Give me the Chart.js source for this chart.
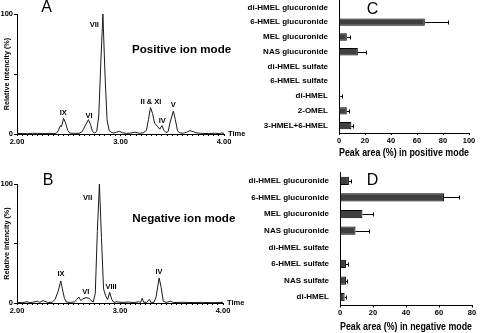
<!DOCTYPE html>
<html>
<head>
<meta charset="utf-8">
<script src="https://cdn.jsdelivr.net/npm/chart.js@4.4.0/dist/chart.umd.min.js"></script>
<style>
body { margin: 0; background: #fff; }
#wrap { position: relative; width: 480px; height: 333px; overflow: hidden; background: #fff; }
canvas { position: absolute; }
</style>
</head>
<body>
<div id="wrap">
  <canvas id="chromPos" width="250" height="165" style="left:0;top:0;width:250px;height:165px"></canvas>
  <canvas id="chromNeg" width="250" height="168" style="left:0;top:165px;width:250px;height:168px"></canvas>
  <canvas id="areaPos" width="240" height="165" style="left:240px;top:0;width:240px;height:165px"></canvas>
  <canvas id="areaNeg" width="240" height="168" style="left:240px;top:165px;width:240px;height:168px"></canvas>
</div>
<script>
// chromatogram A (positive ion mode): retention time (min) / relative intensity (%)
var posTime = [2.00,2.05,2.10,2.15,2.20,2.25,2.30,2.35,2.38,2.40,
               2.42,2.43,2.45,2.47,2.49,2.51,2.55,2.60,2.63,2.66,
               2.69,2.71,2.73,2.75,2.77,2.79,2.81,2.83,2.85,2.87,
               2.89,2.91,2.93,2.96,2.99,3.02,3.06,3.10,3.14,3.18,
               3.22,3.25,3.27,3.29,3.31,3.33,3.36,3.38,3.40,3.42,
               3.44,3.46,3.48,3.51,3.53,3.55,3.57,3.60,3.64,3.67,
               3.70,3.73,3.78,3.85,3.92,3.96,3.98,4.00];
var posIntensity = [0.5,0.4,0.3,0.6,0.5,0.4,0.5,0.4,0.6,3,
                    7,6,13,9,3,0.8,0.5,0.6,2,7,
                    12,8,2,0.8,2,15,60,100,50,12,
                    3,1.5,0.8,1.5,2.2,1,0.5,0.8,1.5,0.6,
                    1,3,12,22,17,9,6,4,7,3,
                    1.2,2,10,19,12,3,1,0.6,1.5,2.8,
                    2,1,0.5,0.4,0.6,0.3,1,0.5];
var posPeakNames = ['IX', 'VI', 'VII', 'II & XI', 'IV', 'V'];
var posPeakTime = [2.447, 2.696, 2.747, 3.295, 3.404, 3.51];
var posPeakLabelY = [17.2, 15.3, 90.8, 26.4, 11.1, 24.2];

// chromatogram B (negative ion mode)
var negTime = [2.00,2.05,2.10,2.12,2.15,2.20,2.22,2.25,2.30,2.34,
               2.37,2.40,2.425,2.44,2.46,2.48,2.52,2.56,2.58,2.60,
               2.62,2.64,2.67,2.70,2.72,2.74,2.76,2.78,2.80,2.82,
               2.84,2.86,2.88,2.90,2.92,2.94,2.97,3.02,3.08,3.14,
               3.18,3.20,3.215,3.23,3.26,3.285,3.30,3.33,3.35,3.38,
               3.40,3.42,3.45,3.49,3.52,3.60,3.70,3.80,3.90,4.00];
var negIntensity = [0.5,0.3,1,0.4,0.6,1.5,0.5,2,0.5,0.6,
                    3,10,18.5,12,4,0.8,0.5,1,3,5,
                    2,3.5,4.5,4,2,0.8,8,60,100,55,
                    12,6,3,9,3,0.6,1,0.5,0.8,0.4,
                    1,0.5,4,0.6,0.5,3,0.6,0.5,5,21,
                    13,1.5,0.5,1.5,0.4,0.6,0.4,0.5,0.3,0.5];
var negPeakNames = ['IX', 'VI', 'VII', 'VIII', 'IV'];
var negPeakTime = [2.427, 2.667, 2.686, 2.913, 3.379];
var negPeakLabelY = [24.4, 9.2, 88.5, 13.7, 25.8];

// peak area panels C and D (mean and +SD)
var posCategories = ['di-HMEL glucuronide', '6-HMEL glucuronide', 'MEL glucuronide', 'NAS glucuronide',
                     'di-HMEL sulfate', '6-HMEL sulfate', 'di-HMEL', '2-OMEL', '3-HMEL+6-HMEL'];
var posArea = [0, 66, 6, 14.5, 0.5, 0, 1, 6, 9.5];
var posErr = [0, 17.5, 2.7, 6, 0, 0, 1, 1.7, 1.5];

var negCategories = ['di-HMEL glucuronide', '6-HMEL glucuronide', 'MEL glucuronide', 'NAS glucuronide',
                     'di-HMEL sulfate', '6-HMEL sulfate', 'NAS sulfate', 'di-HMEL'];
var negArea = [5.4, 63, 13.6, 9.4, 0, 3.6, 3.6, 2.8];
var negErr = [1.2, 9.4, 6.4, 8.2, 0, 1.4, 0.8, 1];

var FONT = "'Liberation Sans', Arial, Helvetica, sans-serif";
Chart.defaults.font.family = FONT;
Chart.defaults.color = '#000';

var tickFont = { size: 7.5, weight: 'bold' };
var catFont = { size: 8, weight: 'bold' };

function chromText(letter, letterX, letterY, names, times, ys, modeText, modeX, modeY) {
    return {
        id: 'chromText',
        afterDraw: function(chart) {
            var ctx = chart.ctx, xs = chart.scales.x, ysc = chart.scales.y, a = chart.chartArea;
            ctx.save();
            ctx.fillStyle = '#000';
            ctx.textAlign = 'center';
            ctx.textBaseline = 'middle';
            ctx.font = 'bold 7.5px ' + FONT;
            for (var i = 0; i < names.length; i++) {
                ctx.fillText(names[i], xs.getPixelForValue(times[i]), ysc.getPixelForValue(ys[i]));
            }
            ctx.font = 'bold 11.6px ' + FONT;
            ctx.fillText(modeText, xs.getPixelForValue(modeX), ysc.getPixelForValue(modeY));
            ctx.font = '16px ' + FONT;
            ctx.fillText(letter, letterX, letterY);
            ctx.textAlign = 'left';
            ctx.font = 'bold 7.5px ' + FONT;
            ctx.fillText('Time', a.right + 4, ysc.getPixelForValue(0));
            ctx.restore();
        }
    };
}

function chromChart(id, times, values, pad, xHeight, textPlugin) {
    var pts = [];
    for (var i = 0; i < times.length; i++) {
        pts.push({ x: times[i], y: values[i] });
    }
    return new Chart(document.getElementById(id), {
        type: 'line',
        data: {
            datasets: [{
                data: pts,
                borderColor: '#1a1a1a',
                borderWidth: 1,
                pointRadius: 0,
                tension: 0,
                fill: false
            }]
        },
        options: {
            responsive: false,
            animation: false,
            layout: { padding: pad },
            plugins: { legend: { display: false }, tooltip: { enabled: false } },
            scales: {
                x: {
                    type: 'linear', min: 2, max: 4,
                    ticks: {
                        stepSize: 0.05, autoSkip: false, maxRotation: 0, padding: 1, font: tickFont,
                        callback: function(v) {
                            return Math.abs(v - Math.round(v)) < 1e-6 ? Number(v).toFixed(2) : '';
                        }
                    },
                    grid: { drawOnChartArea: false, tickLength: 2, color: '#000' },
                    border: { color: '#000' },
                    afterFit: function(s) { s.height = xHeight; s.paddingLeft = 0; s.paddingRight = 0; }
                },
                y: {
                    min: 0, max: 100,
                    ticks: {
                        stepSize: 50, padding: 1, font: tickFont,
                        callback: function(v) { return v === 50 ? '' : v; }
                    },
                    grid: { drawOnChartArea: false, tickLength: 3, color: '#000' },
                    border: { color: '#000' },
                    title: {
                        display: true, text: 'Relative intencity (%)',
                        font: { size: 7.2, weight: 'bold' }, padding: { top: 2.7, bottom: 0 }
                    },
                    afterFit: function(s) { s.width = 17; s.paddingTop = 0; s.paddingBottom = 0; }
                }
            }
        },
        plugins: [textPlugin]
    });
}

var errorBars = {
    id: 'errorBars',
    afterDatasetsDraw: function(chart) {
        var ctx = chart.ctx, xs = chart.scales.x;
        var meta = chart.getDatasetMeta(0);
        var vals = chart.data.datasets[0].data;
        var errs = chart.data.datasets[0].errors;
        ctx.save();
        ctx.strokeStyle = '#000';
        ctx.lineWidth = 1;
        for (var i = 0; i < vals.length; i++) {
            if (!errs[i]) continue;
            var y = Math.round(meta.data[i].y) + 0.5;
            var x0 = xs.getPixelForValue(vals[i]);
            var x1 = Math.round(xs.getPixelForValue(vals[i] + errs[i])) + 0.5;
            ctx.beginPath();
            ctx.moveTo(x0, y);
            ctx.lineTo(x1, y);
            ctx.moveTo(x1, y - 2);
            ctx.lineTo(x1, y + 2);
            ctx.stroke();
        }
        ctx.restore();
    }
};

function letterPlugin(letter, lx, ly) {
    return {
        id: 'panelLetter',
        afterDraw: function(chart) {
            var ctx = chart.ctx;
            ctx.save();
            ctx.fillStyle = '#000';
            ctx.font = '16px ' + FONT;
            ctx.textAlign = 'center';
            ctx.textBaseline = 'middle';
            ctx.fillText(letter, lx, ly);
            ctx.restore();
        }
    };
}

function areaChart(id, cats, vals, errs, xmax, pad, yWidth, xHeight, titleText, titlePad, letter) {
    return new Chart(document.getElementById(id), {
        type: 'bar',
        data: {
            labels: cats,
            datasets: [{
                data: vals,
                errors: errs,
                backgroundColor: '#404040',
                borderColor: '#000',
                borderWidth: 1,
                barPercentage: 0.5,
                categoryPercentage: 1
            }]
        },
        options: {
            indexAxis: 'y',
            responsive: false,
            animation: false,
            layout: { padding: pad },
            plugins: { legend: { display: false }, tooltip: { enabled: false } },
            scales: {
                x: {
                    min: 0, max: xmax,
                    ticks: { stepSize: 20, padding: 1, maxRotation: 0, font: tickFont },
                    grid: { drawOnChartArea: false, tickLength: 2, color: '#000' },
                    border: { color: '#000' },
                    title: {
                        display: true, text: titleText,
                        font: { size: 10.2, weight: 'bold' }, padding: { top: 0, bottom: titlePad }
                    },
                    afterFit: function(s) { s.height = xHeight; s.paddingLeft = 0; s.paddingRight = 0; }
                },
                y: {
                    ticks: { padding: 3, font: catFont },
                    grid: { display: false },
                    border: { color: '#000' },
                    afterFit: function(s) { s.width = yWidth; s.paddingTop = 0; s.paddingBottom = 0; }
                }
            }
        },
        plugins: [errorBars, letter]
    });
}

chromChart('chromPos', posTime, posIntensity, { left: 0, top: 14, right: 26, bottom: 0 }, 31,
    chromText('A', 46.7, 7.5, posPeakNames, posPeakTime, posPeakLabelY, 'Positive ion mode', 3.59, 70));

chromChart('chromNeg', negTime, negIntensity, { left: 0, top: 19, right: 27, bottom: 0 }, 30,
    chromText('B', 48, 15.3, negPeakNames, negPeakTime, negPeakLabelY, 'Negative ion mode', 3.62, 70.6));

areaChart('areaPos', posCategories, posArea, posErr, 100, { left: 0, top: 0, right: 11, bottom: 0 }, 99, 32,
    'Peak area (%) in positive mode', 5.5, letterPlugin('C', 132.5, 9.2));

areaChart('areaNeg', negCategories, negArea, negErr, 80, { left: 0, top: 7.5, right: 8, bottom: 0 }, 100, 27.5,
    'Peak area (%) in negative mode', 0, letterPlugin('D', 132.5, 15.8));
</script>
</body>
</html>
